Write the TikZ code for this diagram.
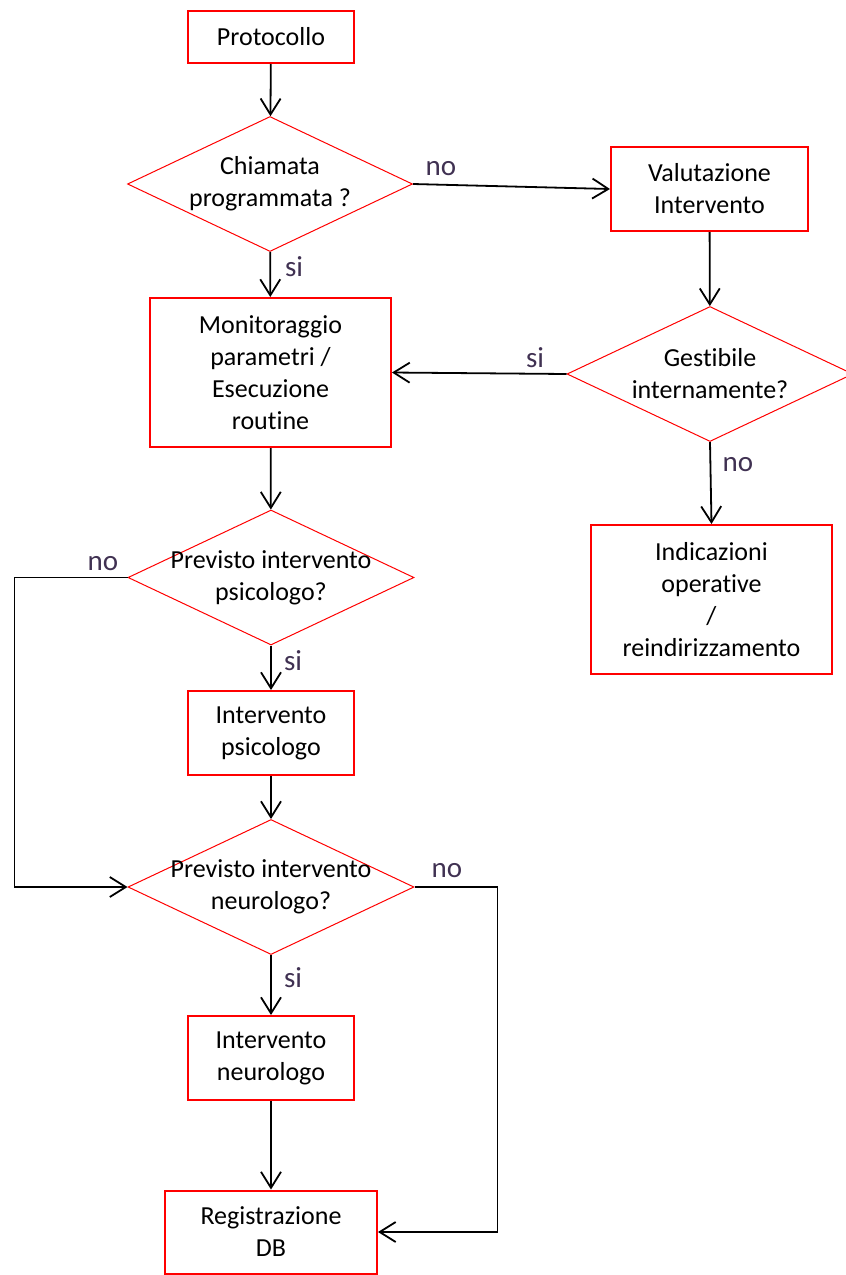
\documentclass[tikz,border=0pt]{standalone}
\usepackage{fontspec}
\setmainfont{Carlito}[Ligatures=NoCommon]
\usetikzlibrary{shapes.geometric,arrows.meta}
\definecolor{boxred}{RGB}{255,0,0}
\definecolor{answergray}{RGB}{64,49,82}
\tikzset{
  box/.style={draw=boxred, line width=2pt, align=center, inner sep=0pt,
    font=\fontsize{26}{32}\selectfont},
  choice/.style={diamond, draw=boxred, line width=1pt, aspect=2.1,
    inner xsep=-60pt, inner ysep=0pt, minimum width=285pt,
    minimum height=135pt, align=center, font=\fontsize{26}{32}\selectfont},
  flow/.style={line width=1.8pt, -{Straight Barb[length=16pt,width=20pt]}},
  answer/.style={text=answergray, inner sep=0pt, font=\fontsize{29}{32}\selectfont}
}
\begin{document}
\begin{tikzpicture}[x=1pt,y=-1pt]
        \useasboundingbox (0,0) rectangle (846,1275);

        \node[box, minimum width=166pt, minimum height=52pt] (protocollo) at (271,37) {Protocollo};
        \node[choice] (chiamata) at (270,184) {Chiamata\\programmata ?};
        \node[box, minimum width=197pt, minimum height=84pt] (valutazione) at (709.5,189) {Valutazione\\Intervento};
        \node[choice, minimum width=286pt] (gestibile) at (710,374) {Gestibile\\internamente?};
        \node[box, minimum width=241pt, minimum height=149pt] (monitoraggio) at (270.5,372.5) {Monitoraggio\\parametri /\\Esecuzione\\routine};
        \node[box, minimum width=241pt, minimum height=149pt] (indicazioni) at (711.5,599.5) {Indicazioni\\operative\\/\\reindirizzamento};
        \node[choice, minimum width=286pt] (psicq) at (271,577.5) {Previsto intervento\\psicologo?};
        \node[box, minimum width=166pt, minimum height=84pt] (psicologo) at (271,733) {Intervento\\psicologo};
        \node[choice, minimum width=286pt] (neuroq) at (271,887) {Previsto intervento\\neurologo?};
        \node[box, minimum width=166pt, minimum height=84pt] (neurologo) at (271,1058) {Intervento\\neurologo};
        \node[box, minimum width=212pt, minimum height=83pt] (registrazione) at (271,1232) {Registrazione\\DB};

        \draw[flow] (protocollo) -- (chiamata);
        \draw[flow] (chiamata.east) -- (valutazione.west);
        \draw[flow] (chiamata) -- (monitoraggio);
        \draw[flow] (valutazione) -- (gestibile);
        \draw[flow] (gestibile.west) -- (monitoraggio.east);
        \draw[flow] (gestibile.south) -- (indicazioni.north);
        \draw[flow] (monitoraggio) -- (psicq);
        \draw[flow] (psicq.west) -- ++(-113,0) |- (neuroq.west);
        \draw[flow] (psicq) -- (psicologo);
        \draw[flow] (psicologo) -- (neuroq);
        \draw[flow] (neuroq) -- (neurologo);
        \draw[flow] (neuroq.east) -- ++(83,0) |- (registrazione.east);
        \draw[flow] (neurologo) -- (registrazione);

        \node[answer] (no1) at (441,169) {no};
        \node[answer] (si1) at (294,267) {si};
        \node[answer] (si2) at (535,358) {si};
        \node[answer] (no2) at (738,465) {no};
        \node[answer] (no3) at (103,564) {no};
        \node[answer] (si3) at (293,661) {si};
        \node[answer] (no4) at (447,871) {no};
        \node[answer] (si4) at (293,978) {si};
\end{tikzpicture}
\end{document}
